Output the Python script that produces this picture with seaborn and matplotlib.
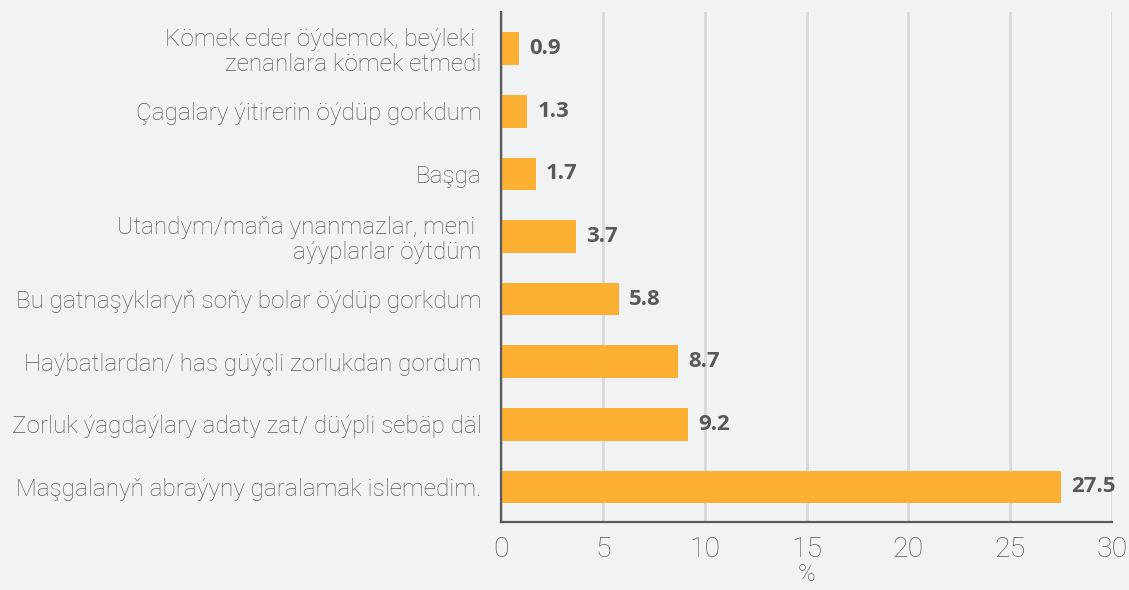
import matplotlib
matplotlib.use("Agg")
import matplotlib.pyplot as plt
import seaborn as sns
import pandas as pd

categories = [
    "Kömek eder öýdemok, beýleki \nzenanlara kömek etmedi",
    "Çagalary ýitirerin öýdüp gorkdum",
    "Başga",
    "Utandym/maňa ynanmazlar, meni \naýyplarlar öýtdüm",
    "Bu gatnaşyklaryň soňy bolar öýdüp gorkdum",
    "Haýbatlardan/ has güýçli zorlukdan gordum",
    "Zorluk ýagdaýlary adaty zat/ düýpli sebäp däl",
    "Maşgalanyň abraýyny garalamak islemedim.",
]
values = [0.9, 1.3, 1.7, 3.7, 5.8, 8.7, 9.2, 27.5]
value_labels = ["0.9", "1.3", "1.7", "3.7", "5.8", "8.7", "9.2", "27.5"]
xticks = [0, 5, 10, 15, 20, 25, 30]
xlabel = "%"

bg = "#F1F2F4"
bar_color = "#FBB034"
text_color = "#595959"

sns.set_theme(style="white")
plt.rcParams["font.family"] = ["Roboto", "DejaVu Sans"]

df = pd.DataFrame({"cat": categories, "val": values})

fig = plt.figure(figsize=(11.29, 5.90), dpi=100, facecolor=bg)
ax = fig.add_axes([0.4437, 0.1153, 0.5413, 0.8647])
ax.set_facecolor(bg)

sns.barplot(data=df, y="cat", x="val", orient="h", color=bar_color,
            saturation=1, width=0.52, ax=ax, zorder=3, linewidth=0)

ax.set_xlim(0, 30)
ax.set_ylim(7.56, -0.59)
ax.set_xticks(xticks)
ax.set_xticklabels([str(t) for t in xticks], fontsize=20.5, color=text_color,
                   fontweight="light")
ax.tick_params(axis="both", length=0)
ax.tick_params(axis="x", pad=10)
ax.tick_params(axis="y", pad=14)
for lbl in ax.get_yticklabels():
    lbl.set_fontsize(17.5)
    lbl.set_color(text_color)
    lbl.set_fontweight("light")
    lbl.set_linespacing(1.1)

ax.set_ylabel("")
ax.set_xlabel(xlabel, fontsize=17, color=text_color, labelpad=0, fontweight="light")

ax.grid(axis="x", color="#D9D9D9", linewidth=2, zorder=0)
ax.grid(axis="y", visible=False)
for s in ["top", "right"]:
    ax.spines[s].set_visible(False)
for s in ["left", "bottom"]:
    ax.spines[s].set_color(text_color)
    ax.spines[s].set_linewidth(1.6)
    ax.spines[s].set_zorder(4)

for i, (v, t) in enumerate(zip(values, value_labels)):
    ax.text(v + 0.5, i, t, va="center", ha="left", fontsize=16,
            fontweight="bold", color=text_color, family=["Open Sans", "DejaVu Sans"],
            clip_on=False)

fig.savefig("out.png", dpi=100, facecolor=bg)
